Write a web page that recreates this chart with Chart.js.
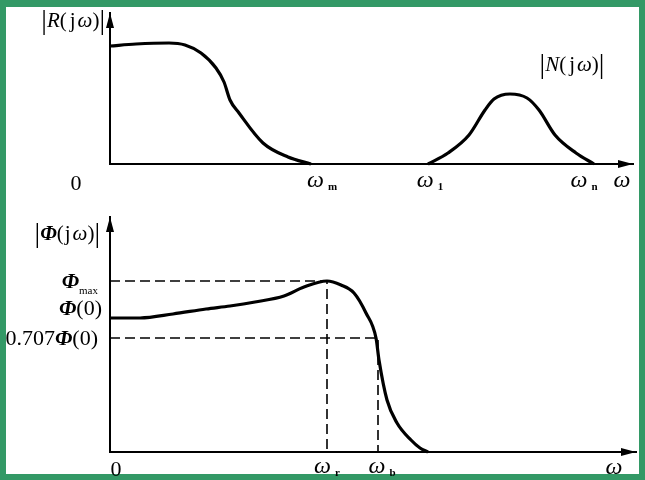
<!DOCTYPE html>
<html>
<head>
<meta charset="utf-8">
<script src="https://cdn.jsdelivr.net/npm/chart.js@4.4.1/dist/chart.umd.min.js"></script>
<style>
  html, body { margin: 0; padding: 0; background: #339966; width: 645px; height: 480px; overflow: hidden; }
  #sheet { position: absolute; left: 6px; top: 7px; width: 633px; height: 467px; background: #fff; }
  canvas { position: absolute; left: 0; top: 0; }
</style>
</head>
<body>
<div id="sheet"></div>
<canvas id="topChart" width="645" height="480"></canvas>
<canvas id="bottomChart" width="645" height="480"></canvas>
<script>
// top panel: |R(jw)| and |N(jw)| (x, y, arbitrary units)
const rX = [0, 26, 59, 75, 91, 106, 114, 120, 129, 153, 178, 201];
const rY = [118, 120, 121, 119, 111, 96, 82, 64, 51, 21, 7, 0];
const nX = [318, 338, 359, 375, 384, 400, 417, 429, 445, 466, 484];
const nY = [0, 11, 29, 54, 65, 70, 66, 54, 29, 11, 0];
const topTickPos = [212, 320, 474];
const topTickSub = ['m', '1', 'n'];

// bottom panel: |Phi(jw)|
const phiX = [1, 30, 63, 96, 120, 145, 174, 194, 217, 231, 244, 256, 266, 269, 277, 287, 301, 310, 318];
const phiY = [134, 134, 138, 143, 146, 150, 156, 165, 171, 167, 159, 139, 114, 92, 52, 29, 12, 4, 0];
const markX = [217, 268];        // w_r, w_b
const markY = [171, 114];        // Phi_max, 0.707 Phi(0)
const bottomTickPos = [217, 272];
const bottomTickSub = ['r', 'b'];

const serif = '"Liberation Serif", "DejaVu Serif", serif';

function pts(xs, ys) {
  return xs.map((x, i) => ({x: x, y: ys[i]}));
}

// draws a row of text runs with different fonts; align = 'left' | 'right' | 'center'
function drawRuns(ctx, x, y, runs, align) {
  let total = 0;
  runs.forEach((r) => {
    ctx.font = r.font;
    r.w = ctx.measureText(r.t).width + (r.gap || 0);
    total += r.w;
  });
  let cx = x;
  if (align === 'right') cx = x - total;
  if (align === 'center') cx = x - total / 2;
  ctx.textBaseline = 'alphabetic';
  ctx.textAlign = 'left';
  runs.forEach((r) => {
    ctx.font = r.font;
    ctx.fillText(r.t, cx, y + (r.dy || 0));
    cx += r.w;
  });
}

const arrowPlugin = {
  id: 'arrows',
  afterDraw(chart) {
    const ctx = chart.ctx;
    const a = chart.chartArea;
    ctx.save();
    ctx.fillStyle = '#000';
    ctx.beginPath();
    ctx.moveTo(a.left, a.top);
    ctx.lineTo(a.left - 4, a.top + 15);
    ctx.lineTo(a.left + 4, a.top + 15);
    ctx.closePath();
    ctx.fill();
    ctx.beginPath();
    ctx.moveTo(a.right, a.bottom);
    ctx.lineTo(a.right - 15, a.bottom - 4);
    ctx.lineTo(a.right - 15, a.bottom + 4);
    ctx.closePath();
    ctx.fill();
    ctx.restore();
  }
};

const it = (s) => 'italic ' + s + 'px ' + serif;
const up = (s) => s + 'px ' + serif;
const bi = (s) => 'italic bold ' + s + 'px ' + serif;

const topLabels = {
  id: 'topLabels',
  afterDraw(chart) {
    const ctx = chart.ctx;
    const xs = chart.scales.x;
    const a = chart.chartArea;
    ctx.save();
    ctx.fillStyle = '#000';
    // axis titles
    drawRuns(ctx, a.left - 5, 27, [
      {t: '|', font: up(28), dy: 2}, {t: 'R', font: it(21)}, {t: '(', font: up(21), gap: 3},
      {t: 'j', font: up(21), gap: 2}, {t: 'ω', font: it(21)}, {t: ')', font: up(21)}, {t: '|', font: up(28), dy: 2}
    ], 'right');
    drawRuns(ctx, 572, 71, [
      {t: '|', font: up(28), dy: 2}, {t: 'N', font: it(21)}, {t: '(', font: up(21), gap: 3},
      {t: 'j', font: up(21), gap: 2}, {t: 'ω', font: it(21)}, {t: ')', font: up(21)}, {t: '|', font: up(28), dy: 2}
    ], 'center');
    drawRuns(ctx, 76, 190, [{t: '0', font: up(22)}], 'center');
    topTickPos.forEach((v, i) => {
      const px = xs.getPixelForValue(v);
      drawRuns(ctx, px, 187, [{t: 'ω', font: it(24), gap: 4}, {t: topTickSub[i], font: 'bold ' + up(11), dy: 3}], 'center');
    });
    drawRuns(ctx, 622, 187, [{t: 'ω', font: it(24)}], 'center');
    ctx.restore();
  }
};

const bottomLabels = {
  id: 'bottomLabels',
  afterDraw(chart) {
    const ctx = chart.ctx;
    const xs = chart.scales.x;
    const ys = chart.scales.y;
    const a = chart.chartArea;
    ctx.save();
    ctx.fillStyle = '#000';
    drawRuns(ctx, a.left - 10, 240, [
      {t: '|', font: up(28), dy: 2}, {t: 'Φ', font: bi(21)}, {t: '(', font: up(21), gap: 1},
      {t: 'j', font: up(21), gap: 2}, {t: 'ω', font: it(21)}, {t: ')', font: up(21)}, {t: '|', font: up(28), dy: 2}
    ], 'right');
    const yMax = ys.getPixelForValue(markY[0]);
    drawRuns(ctx, 98, yMax + 7, [{t: 'Φ', font: bi(22)}, {t: 'max', font: up(11), dy: 6}], 'right');
    drawRuns(ctx, 102, ys.getPixelForValue(phiY[0]) - 3, [{t: 'Φ', font: bi(22)}, {t: '(0)', font: up(22)}], 'right');
    drawRuns(ctx, 98, ys.getPixelForValue(markY[1]) + 7, [
      {t: '0.707', font: up(22)}, {t: 'Φ', font: bi(22)}, {t: '(0)', font: up(22)}
    ], 'right');
    drawRuns(ctx, 116, 476, [{t: '0', font: up(22)}], 'center');
    bottomTickPos.forEach((v, i) => {
      const px = xs.getPixelForValue(v);
      drawRuns(ctx, px, 473, [{t: 'ω', font: it(24), gap: 4}, {t: bottomTickSub[i], font: 'bold ' + up(11), dy: 3}], 'center');
    });
    drawRuns(ctx, 614, 474, [{t: 'ω', font: it(24)}], 'center');
    ctx.restore();
  }
};

function axisOpts(min, max) {
  return {
    type: 'linear',
    min: min,
    max: max,
    grid: {display: false, drawTicks: false},
    ticks: {display: false},
    border: {display: true, color: '#000', width: 2},
    afterFit(scale) {
      if (scale.isHorizontal()) scale.height = 0; else scale.width = 0;
    }
  };
}

function curve(data, width) {
  return {
    data: data,
    borderColor: '#000',
    borderWidth: width,
    pointRadius: 0,
    fill: false,
    cubicInterpolationMode: 'monotone',
    clip: false
  };
}

function dashed(data) {
  return {
    data: data,
    borderColor: '#000',
    borderWidth: 1.6,
    borderDash: [10, 5],
    pointRadius: 0,
    fill: false,
    tension: 0,
    clip: false
  };
}

const baseOptions = {
  responsive: false,
  animation: false,
  plugins: {legend: {display: false}, tooltip: {enabled: false}}
};

new Chart(document.getElementById('topChart').getContext('2d'), {
  type: 'line',
  data: {datasets: [curve(pts(rX, rY), 3.2), curve(pts(nX, nY), 3.2)]},
  options: Object.assign({}, baseOptions, {
    layout: {padding: {left: 110, right: 12, top: 13, bottom: 316}},
    scales: {x: axisOpts(0, 523), y: axisOpts(0, 151)}
  }),
  plugins: [arrowPlugin, topLabels]
});

new Chart(document.getElementById('bottomChart').getContext('2d'), {
  type: 'line',
  data: {
    datasets: [
      dashed([{x: 0, y: markY[0]}, {x: markX[0], y: markY[0]}, {x: markX[0], y: 0}]),
      dashed([{x: 0, y: markY[1]}, {x: markX[1], y: markY[1]}, {x: markX[1], y: 0}]),
      curve(pts(phiX, phiY), 3.2)
    ]
  },
  options: Object.assign({}, baseOptions, {
    layout: {padding: {left: 110, right: 9, top: 217, bottom: 28}},
    scales: {x: axisOpts(0, 526), y: axisOpts(0, 235)}
  }),
  plugins: [arrowPlugin, bottomLabels]
});
</script>
</body>
</html>
